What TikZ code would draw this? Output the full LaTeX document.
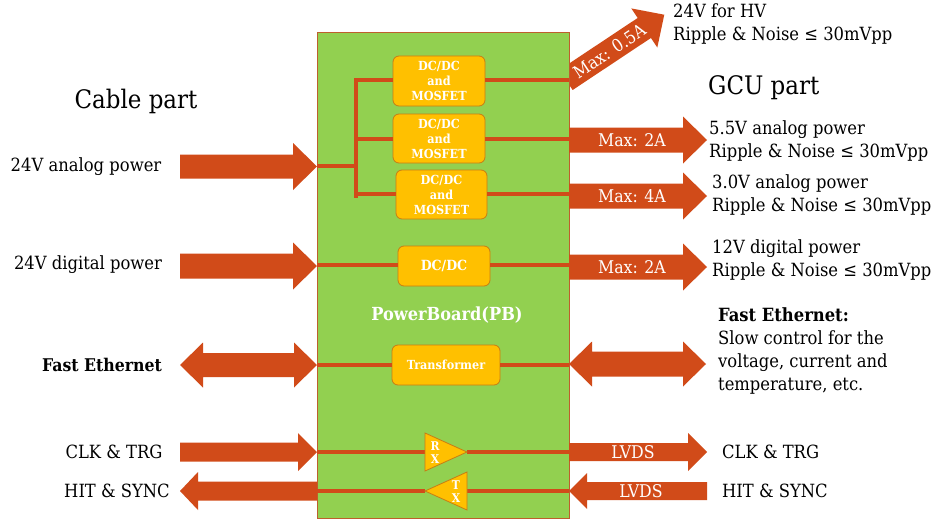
\documentclass[tikz,border=0pt]{standalone}
\usepackage{fontspec}
\setmainfont{DejaVu Serif Condensed}
\definecolor{arr}{RGB}{209,75,25}
\definecolor{pbgreen}{RGB}{146,208,80}
\definecolor{pbline}{RGB}{190,95,45}
\definecolor{obox}{RGB}{255,192,0}
\definecolor{oline}{RGB}{200,125,20}
\newcommand\FatArrow[6]{% tail x, tip x, y, body half, head half, signed head length
  \fill[arr] (#1,#3-#4) -- (#2-#6,#3-#4) -- (#2-#6,#3-#5) -- (#2,#3) -- (#2-#6,#3+#5) -- (#2-#6,#3+#4) -- (#1,#3+#4) -- cycle;}
\newcommand\FatDouble[6]{% left tip, right tip, y, body half, head half, head length
  \fill[arr] (#1,#3) -- (#1+#6,#3-#5) -- (#1+#6,#3-#4) -- (#2-#6,#3-#4) -- (#2-#6,#3-#5) -- (#2,#3) -- (#2-#6,#3+#5) -- (#2-#6,#3+#4) -- (#1+#6,#3+#4) -- (#1+#6,#3+#5) -- cycle;}
\tikzset{
  lbl/.style={font=\fontsize{18.2}{21}\selectfont, inner sep=0pt},
  rlbl/.style={font=\fontsize{18.2}{23}\selectfont, inner sep=0pt, align=left, anchor=west},
  head/.style={font=\fontsize{25.5}{30}\selectfont, inner sep=0pt},
  inarr/.style={font=\fontsize{17.5}{20}\selectfont, text=white, inner sep=0pt},
  obx/.style={draw=oline, fill=obox, line width=0.8pt, rounded corners=6pt, text=white,
    font=\bfseries\fontsize{12.5}{15}\selectfont, align=center, inner sep=0pt},
  wire/.style={draw=arr, line width=4pt},
  tri/.style={draw=oline, fill=obox, line width=0.8pt, line join=miter},
  tiny/.style={text=white, font=\bfseries\fontsize{12}{12}\selectfont, inner sep=0pt}
}
\begin{document}
\begin{tikzpicture}[x=1pt,y=-1pt]
\useasboundingbox (0,0) rectangle (939,519);
% diagonal arrow behind the board
\begin{scope}[shift={(566,80)}, rotate=33.6]
  \fill[arr] (0,-12) -- (94,-12) -- (94,-23.5) -- (118,0) -- (94,23.5) -- (94,12) -- (0,12) -- cycle;
  \node[inarr, rotate=33.6] (m05) at (52,0) {Max: 0.5A};
\end{scope}
% board
\node[draw=pbline, fill=pbgreen, line width=0.8pt, minimum width=252pt, minimum height=486pt, inner sep=0pt] (pb) at (443,275) {};
\node[text=white, font=\bfseries\fontsize{18}{21}\selectfont, inner sep=0pt] (pbt) at (447,315) {PowerBoard(PB)};
% orange boxes
\node[obx, minimum width=92pt, minimum height=50pt] (b1) at (439,81) {DC/DC\\and\\MOSFET};
\node[obx, minimum width=92pt, minimum height=49pt] (b2) at (439,138.5) {DC/DC\\and\\MOSFET};
\node[obx, minimum width=91pt, minimum height=49pt] (b3) at (441.5,194.5) {DC/DC\\and\\MOSFET};
\node[obx, minimum width=92pt, minimum height=40pt, font=\bfseries\fontsize{14}{16}\selectfont] (dd) at (444,266) {DC/DC};
\node[obx, minimum width=108pt, minimum height=40pt, font=\bfseries\fontsize{12.5}{14}\selectfont] (tr) at (446,365) {Transformer};
% coordinates
\coordinate (inA) at (317,166);
\coordinate (busM) at (356,166);
\coordinate (busT) at (356,80);
\coordinate (busB) at (356,196);
\coordinate (br2) at (356,139);
\coordinate (br3) at (356,194);
\coordinate (o1) at (569,80);
\coordinate (o2) at (569,139);
\coordinate (o3) at (569,194);
\coordinate (inD) at (317,265);
\coordinate (oD) at (569,265);
\coordinate (inE) at (317,365);
\coordinate (oE) at (569,365);
\coordinate (inC) at (317,452);
\coordinate (oC) at (569,452);
\coordinate (inH) at (317,491);
\coordinate (oH) at (569,491);
% wires
\draw[wire] (inA) -- (busM);
\draw[wire, line cap=rect] (busT) -- (busB);
\draw[wire] (busT) -- (b1.west |- busT);
\draw[wire] (br2) -- (b2.west |- br2);
\draw[wire] (br3) -- (b3.west |- br3);
\draw[wire] (b1.east |- o1) -- (o1);
\draw[wire] (b2.east |- o2) -- (o2);
\draw[wire] (b3.east |- o3) -- (o3);
\draw[wire] (inD) -- (dd.west |- inD);
\draw[wire] (dd.east |- oD) -- (oD);
\draw[wire] (inE) -- (tr.west |- inE);
\draw[wire] (tr.east |- oE) -- (oE);
% RX / TX
\coordinate (rxL) at (425,452);
\coordinate (rxR) at (467,452);
\coordinate (txL) at (425,491);
\coordinate (txR) at (467,491);
\draw[wire] (inC) -- (rxL);
\draw[wire] (rxR) -- (oC);
\draw[wire] (inH) -- (txL);
\draw[wire] (txR) -- (oH);
\draw[tri] (425,433) -- (rxR) -- (425,471) -- cycle;
\draw[tri] (467,472) -- (txL) -- (467,510) -- cycle;
\node[tiny] (rxa) at (435,446) {R};
\node[tiny] (rxb) at (435,459) {X};
\node[tiny] (txa) at (456,485) {T};
\node[tiny] (txb) at (456,498) {X};
% left arrows
\FatArrow{180}{317}{166.5}{12}{23.5}{24}
\FatArrow{180}{317}{266}{12.5}{23.5}{24}
\FatDouble{180}{317}{365}{12}{22.5}{23}
\FatArrow{180}{317}{452}{9.5}{19}{19}
\FatArrow{317}{180}{491}{9.5}{19}{-18}
% right arrows
\FatArrow{569}{707}{140}{12.5}{23.5}{24}
\FatArrow{569}{707}{196}{12.5}{23.5}{24}
\FatArrow{569}{707}{267}{12.5}{23.5}{24}
\FatDouble{569}{706}{364}{12.5}{22.5}{23}
\FatArrow{569}{707}{452}{9}{19}{19}
\FatArrow{707}{569}{491}{9}{18}{-18}
\node[inarr] (m2a) at (632,140) {Max: 2A};
\node[inarr] (m4) at (632,196) {Max: 4A};
\node[inarr] (m2b) at (632,267) {Max: 2A};
\node[inarr] (lv1) at (633,452) {LVDS};
\node[inarr] (lv2) at (641,491) {LVDS};
% left labels
\node[head] (cable) at (136,101) {Cable part};
\node[lbl] (la) at (86,167) {24V analog power};
\node[lbl] (ld) at (88,265) {24V digital power};
\node[lbl, font=\bfseries\fontsize{17.5}{21}\selectfont] (le) at (102,365) {Fast Ethernet};
\node[lbl] (lc) at (114,452) {CLK \& TRG};
\node[lbl] (lh) at (117,491) {HIT \& SYNC};
% right labels
\node[head, anchor=west] (gcu) at (708,88) {GCU part};
\node[rlbl] (hv) at (673,24) {24V for HV\\Ripple \& Noise ≤ 30mVpp};
\node[rlbl] (a55) at (709,141) {5.5V analog power\\Ripple \& Noise ≤ 30mVpp};
\node[rlbl] (a30) at (712,195) {3.0V analog power\\Ripple \& Noise ≤ 30mVpp};
\node[rlbl] (d12) at (712,260) {12V digital power\\Ripple \& Noise ≤ 30mVpp};
\node[rlbl, anchor=north west] (fe) at (718,307) {\textbf{Fast Ethernet:}\\Slow control for the\\voltage, current and\\temperature, etc.};
\node[lbl, anchor=west] (rc) at (722,452) {CLK \& TRG};
\node[lbl, anchor=west] (rh) at (722,491) {HIT \& SYNC};
\end{tikzpicture}
\end{document}
